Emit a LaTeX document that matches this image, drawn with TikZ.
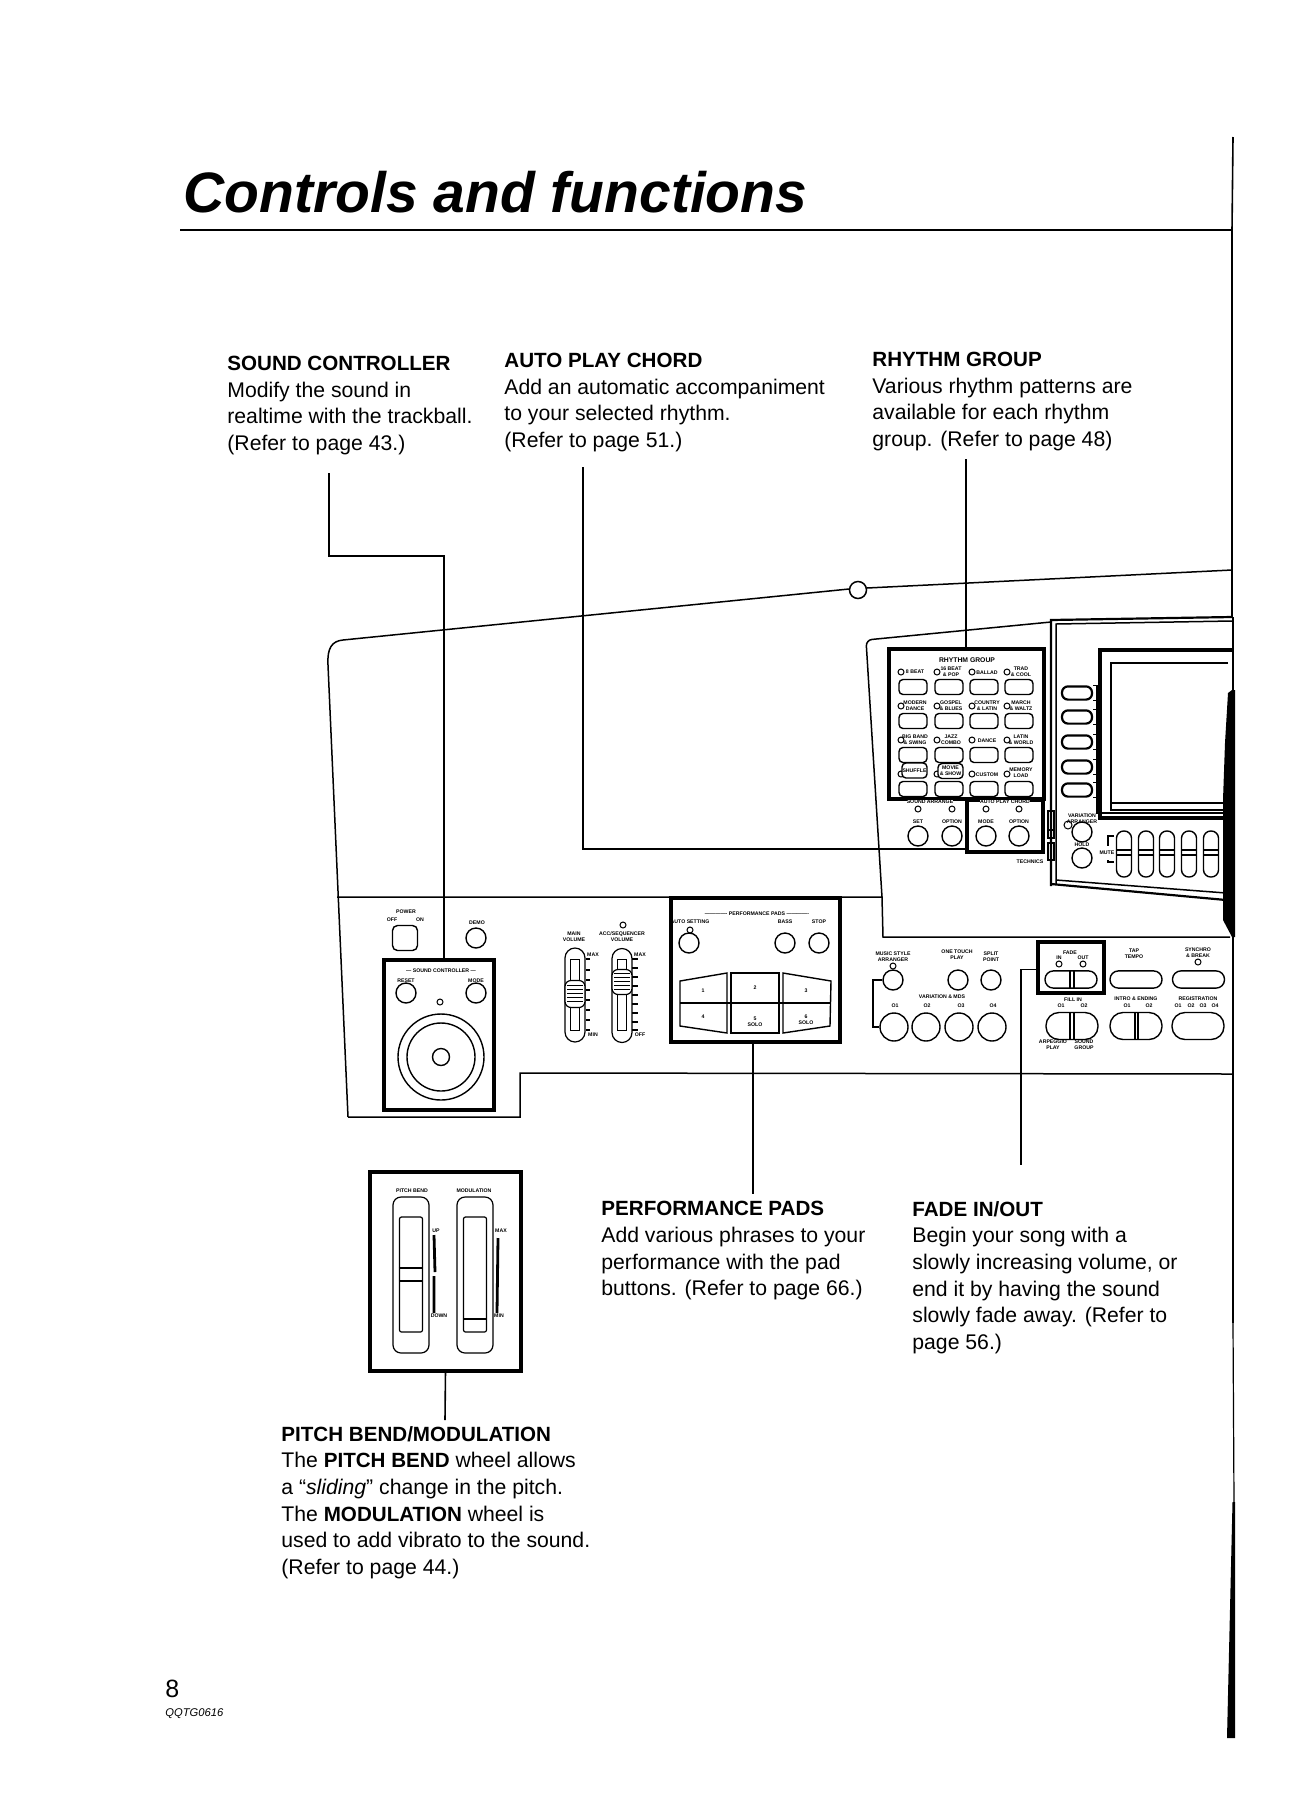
\documentclass[tikz,border=0pt]{standalone}
\usepackage{fontspec}
\setmainfont{Liberation Sans}
\usetikzlibrary{arrows.meta,positioning,calc}
\newcommand{\hd}[1]{{\fontsize{10.3}{13.3}\selectfont\bfseries #1}}
\tikzset{
  body/.style={inner sep=0pt, align=left, anchor=north west, font=\fontsize{10.6}{13.3}\selectfont},
  lead/.style={line width=0.8pt},
  panel/.style={line width=0.75pt},
  hibox/.style={draw, line width=2pt, inner sep=0pt, outer sep=0pt, fill=white},
  lbl/.style={inner sep=0pt, align=center, font=\fontsize{2.6}{3}\selectfont\bfseries},
  lblb/.style={inner sep=0pt, font=\fontsize{3.4}{4}\selectfont\bfseries},
  btn/.style={draw, circle, line width=0.7pt, inner sep=0pt, minimum size=10pt},
  bigbtn/.style={draw, circle, line width=0.7pt, inner sep=0pt, minimum size=14pt},
  led/.style={draw, circle, line width=0.5pt, inner sep=0pt, minimum size=3pt},
  rbtn/.style={draw, rounded corners=2pt, line width=0.7pt, inner sep=0pt, minimum width=14pt, minimum height=7.5pt},
  pill/.style={draw, rounded corners=4.2pt, line width=0.7pt, inner sep=0pt, minimum width=26pt, minimum height=8.6pt},
  bigpill/.style={draw, rounded corners=6.5pt, line width=0.7pt, inner sep=0pt, minimum width=26pt, minimum height=13.5pt},
  softbtn/.style={draw, rounded corners=3pt, line width=1.1pt, inner sep=0pt, minimum width=15pt, minimum height=6.6pt},
  mutebtn/.style={draw, rounded corners=3.6pt, line width=0.7pt, inner sep=0pt, minimum width=7.5pt, minimum height=23pt},
  wheel/.style={draw, rounded corners=4pt, line width=0.6pt, inner sep=0pt, minimum width=18pt, minimum height=78pt},
  wheelin/.style={draw, rounded corners=1pt, line width=0.6pt, inner sep=0pt, minimum width=11.5pt, minimum height=57.5pt},
  slider/.style={draw, rounded corners=5pt, line width=0.6pt, inner sep=0pt, minimum width=10pt, minimum height=47pt},
  sliderin/.style={draw, line width=0.6pt, inner sep=0pt, minimum width=4.8pt, minimum height=35.5pt},
  knob/.style={draw, fill=white, rounded corners=3pt, line width=0.6pt, inner sep=0pt, minimum width=10pt}
}
\begin{document}
\begin{tikzpicture}[x=0.5pt,y=-0.5pt]
  \useasboundingbox (0,0) rectangle (1314,1800);
  \node[inner sep=0pt, anchor=base west, font=\fontsize{28.5}{30}\selectfont\bfseries\itshape] (title) at (183,212) {Controls and functions};
  \coordinate (rulel) at (180,230);
  \coordinate (ruler) at (1232,230);
  \coordinate (edget) at (1233,137);
  \draw[line width=0.8pt] (rulel) -- (ruler);
  \draw[line width=0.8pt] (edget) -- (1232,230) -- (1232,617);
  \draw[line width=1pt] (1233,617) -- (1233,693);

  \node[body] (hsnd) at (227,356) {\hd{SOUND CONTROLLER}\\Modify the sound in\\realtime with the trackball.\\(Refer to page 43.)};
  \node[body] (hchord) at (504,353) {\hd{AUTO PLAY CHORD}\\Add an automatic accompaniment\\to your selected rhythm.\\(Refer to page 51.)};
  \node[body] (hrhy) at (872,352) {\hd{RHYTHM GROUP}\\Various rhythm patterns are\\available for each rhythm\\group. (Refer to page 48)};
  \node[body] (hpads) at (601,1201) {\hd{PERFORMANCE PADS}\\Add various phrases to your\\performance with the pad\\buttons. (Refer to page 66.)};
  \node[body] (hfade) at (912,1201) {\hd{FADE IN/OUT}\\Begin your song with a\\slowly increasing volume, or\\end it by having the sound\\slowly fade away. (Refer to\\page 56.)};
  \node[body] (hbend) at (281,1426) {\hd{PITCH BEND/MODULATION}\\The \hd{PITCH BEND} wheel allows\\a ``\textit{sliding}'' change in the pitch.\\The \hd{MODULATION} wheel is\\used to add vibrato to the sound.\\(Refer to page 44.)};
  \node[inner sep=0pt, anchor=base west, font=\fontsize{12.5}{14}\selectfont] (pageno) at (165,1697) {8};
  \node[inner sep=0pt, anchor=base west, font=\fontsize{5.6}{7}\selectfont\itshape] (code) at (165,1716) {QQTG0616};

  \draw[panel] (348,1117) -- (328,665) .. controls (327,648) and (332,641) .. (343,640) -- (849,589);
  \draw[panel] (867,588) -- (1232,570);
  \node[draw, circle, line width=0.75pt, inner sep=0pt, minimum size=8.5pt] (hinge) at (858,590) {};
  \draw[panel] (348,1117) -- (520,1117) -- (520,1073) -- (1232,1074);
  \draw[panel] (337,897) -- (882,897) -- (883,937) -- (1230,937);
  \draw[panel, rounded corners=3pt] (882,897) -- (866,640) -- (1051,622);
  \draw[line width=1.1pt] (1051,886) -- (1051,620) -- (1232,617);
  \draw[panel] (1056,884) -- (1056,624) -- (1232,621);
  \draw[line width=1.1pt] (1051,884) -- (1226,900);
  \draw[panel] (1056,880) -- (1226,893);
  \draw[panel] (1097,685) -- (1097,813) -- (1227,813);
  \draw[line width=2pt] (1232,650) -- (1100,650) -- (1100,818) -- (1232,818);
  \draw[panel] (1228,663) -- (1111,663) -- (1111,803) -- (1228,803);
  \draw[panel] (1111,803) -- (1111,810) -- (1228,810);
  \draw[panel] (1048,811) rectangle (1054,830) (1048,830) rectangle (1054,838) (1048,843) rectangle (1054,860);
  \fill (1232,690) -- (1235,690) -- (1235,937) -- (1232,937) -- (1223,920) -- (1223,800) -- (1225,743) -- (1228,693) -- cycle;
  \draw[line width=1.4pt] (1233,937) -- (1233,1323);
  \draw[line width=0.6pt] (1233,1323) -- (1234,1502);
  \fill (1232.5,1502) -- (1235,1502) -- (1235,1738) -- (1227,1738) -- cycle;

  \foreach \y [count=\i] in {693,717,742,767,790}{
    \node[softbtn] (soft\i) at (1077,\y) {};
    \draw[panel] (soft\i.north east) -| (1097,\y-3);
    \draw[panel] (soft\i.south east) -| (1097,\y+3);
  }
  \foreach \x [count=\i] in {1124,1146,1167,1189,1211}{
    \node[mutebtn] (mute\i) at (\x,854) {};
    \draw[panel] (\x-7,850) -- (\x+7,850) (\x-7,855) -- (\x+7,855);
  }
  \node[lbl] (mutel) at (1107,853) {MUTE};
  \draw[panel] (1114,836) -- (1108,836) -- (1108,846) (1108,860) -- (1108,862) -- (1114,862);
  \node[btn] (varb) at (1082,832) {};
  \node[btn] (holdb) at (1082,858) {};
  \node[led, minimum size=4pt] (varl) at (1068,825) {};
  \node[lbl] (vart) at (1082,819) {VARIATION\\ARRANGER};
  \node[lbl] (holdt) at (1082,845) {HOLD};
  \node[lbl] (brand) at (1030,862) {TECHNICS};

  \node[hibox, minimum width=77.5pt, minimum height=75pt] (rhybox) at (966.5,724) {};
  \node[lblb] (rhyt) at (967,660) {RHYTHM GROUP};
  \foreach \y/\row in {687/1,721/2,755/3,789/4}{
    \foreach \x/\col in {913/1,949/2,984/3,1019/4}{
      \node[rbtn] (rb\row\col) at (\x,\y) {};
      \node[led] (rl\row\col) at (\x-12,\y-15) {};
    }
  }
  \node[lbl] (t11) at (915,672) {8 BEAT};
  \node[lbl] (t12) at (951,672) {16 BEAT\\\& POP};
  \node[lbl] (t13) at (987,673) {BALLAD};
  \node[lbl] (t14) at (1021,672) {TRAD\\\& COOL};
  \node[lbl] (t21) at (915,706) {MODERN\\DANCE};
  \node[lbl] (t22) at (951,706) {GOSPEL\\\& BLUES};
  \node[lbl] (t23) at (987,706) {COUNTRY\\\& LATIN};
  \node[lbl] (t24) at (1021,706) {MARCH\\\& WALTZ};
  \node[lbl] (t31) at (915,740) {BIG BAND\\\& SWING};
  \node[lbl] (t32) at (951,740) {JAZZ\\COMBO};
  \node[lbl] (t33) at (987,741) {DANCE};
  \node[lbl] (t34) at (1021,740) {LATIN\\\& WORLD};
  \node[rbtn, fill=white, minimum width=12.5pt, minimum height=7.5pt, lbl] (t41) at (914.5,770.5) {SHUFFLE};
  \node[rbtn, fill=white, minimum width=12.5pt, minimum height=7.5pt, lbl] (t42) at (950.5,771) {MOVIE\\\& SHOW};
  \node[lbl] (t43) at (987,775) {CUSTOM};
  \node[lbl] (t44) at (1021,773) {MEMORY\\LOAD};
  \draw[line width=2pt] (rhybox.south west) -- (rhybox.south east);

  \node[hibox, fill=none, minimum width=38pt, minimum height=26pt] (chordbox) at (1005,826) {};
  \node[lbl, fill=white] (sarrt) at (930,802) {SOUND ARRANGE};
  \node[lbl, fill=white] (chordt) at (1005,802) {AUTO PLAY CHORD};
  \foreach \x/\t [count=\i] in {918/SET,952/OPTION,986/MODE,1019/OPTION}{
    \node[led] (cl\i) at (\x,809) {};
    \node[lbl] (ct\i) at (\x,822) {\t};
    \node[btn] (cb\i) at (\x,836) {};
  }

  \node[btn] (msa) at (893,980) {};
  \node[led] (msal) at (893,966) {};
  \node[lbl] (msat) at (893,957) {MUSIC STYLE\\ARRANGER};
  \node[btn] (otp) at (958,980) {};
  \node[lbl] (otpt) at (957,955) {ONE TOUCH\\PLAY};
  \node[btn] (spl) at (991,980) {};
  \node[lbl] (splt) at (991,957) {SPLIT\\POINT};
  \node[lbl] (mdst) at (942,997) {VARIATION \& MDS};
  \foreach \x/\l [count=\i] in {894/895,926/927,959/961,992/993}{
    \node[bigbtn] (vb\i) at (\x,1027) {};
    \node[lbl] (vt\i) at (\l,1006) {O\i};
  }
  \coordinate (brk) at (873,1000);
  \draw[panel] (msa.west) -| (brk) |- (vb1.west);

  \node[hibox, fill=none, minimum width=33pt, minimum height=25.5pt] (fadebox) at (1071,967.5) {};
  \node[pill] (fade) at (1071,979.5) {};
  \draw[panel] (1070,971) -- (1070,988) (1074,971) -- (1074,988);
  \node[lbl] (fadet) at (1070,953) {FADE};
  \node[lbl] (fadei) at (1059,958) {IN};
  \node[lbl] (fadeo) at (1083,958) {OUT};
  \node[led] (fadel) at (1059,964) {};
  \node[led] (fader) at (1083,964) {};
  \node[pill] (tap) at (1136,979.5) {};
  \node[lbl] (tapt) at (1134,954) {TAP\\TEMPO};
  \node[pill] (syn) at (1198.5,979.5) {};
  \node[lbl] (synt) at (1198,953) {SYNCHRO\\\& BREAK};
  \node[led] (synl) at (1198,962) {};

  \node[bigpill] (fill) at (1072,1026) {};
  \draw[panel] (1070,1012) -- (1070,1039) (1074,1012) -- (1074,1039);
  \node[lbl] (fillt) at (1073,1000) {FILL IN};
  \node[lbl] (fill1) at (1061,1006) {O1};
  \node[lbl] (fill2) at (1084,1006) {O2};
  \node[lbl] (fillp) at (1053,1045) {ARPEGGIO\\PLAY};
  \node[lbl] (fillg) at (1084,1045) {SOUND\\GROUP};
  \node[bigpill] (intro) at (1136,1026) {};
  \draw[panel] (1135,1012) -- (1135,1039) (1138,1012) -- (1138,1039);
  \node[lbl] (introt) at (1136,999) {INTRO \& ENDING};
  \node[lbl] (intro1) at (1127,1006) {O1};
  \node[lbl] (intro2) at (1149,1006) {O2};
  \node[bigpill] (regi) at (1198,1026) {};
  \node[lbl] (regit) at (1198,999) {REGISTRATION};
  \foreach \x [count=\i] in {1178,1191,1203,1215}{
    \node[lbl] (reg\i) at (\x,1006) {O\i};
  }

  \node[lbl] (powt) at (406,912) {POWER};
  \node[lbl] (powo) at (392,920) {OFF};
  \node[lbl] (powi) at (420,920) {ON};
  \node[draw, rounded corners=2.5pt, line width=0.7pt, inner sep=0pt, minimum size=12.5pt] (pow) at (405,938) {};
  \node[lbl] (demot) at (477,923) {DEMO};
  \node[btn] (demo) at (476,938) {};

  \node[hibox, minimum width=55pt, minimum height=75pt] (sndbox) at (439,1035) {};
  \node[lbl] (sndt) at (441,971) {--- SOUND CONTROLLER ---};
  \node[lbl] (sndr) at (406,981) {RESET};
  \node[lbl] (sndm) at (476,981) {MODE};
  \node[btn] (resetb) at (406,993) {};
  \node[btn] (modeb) at (476,993) {};
  \node[led] (sndl) at (440,1002) {};
  \node[draw, circle, line width=0.7pt, inner sep=0pt, minimum size=43pt] (ballo) at (441,1057) {};
  \node[draw, circle, line width=0.7pt, inner sep=0pt, minimum size=34pt] (balli) at (441,1057) {};
  \node[draw, circle, line width=0.7pt, inner sep=0pt, minimum size=8.5pt] (ballc) at (441,1057) {};

  \node[slider] (mainv) at (575,995) {};
  \node[sliderin] (maini) at (575,995) {};
  \node[knob, minimum height=13.5pt] (maink) at (575,994) {};
  \foreach \y in {985,989,993,997,1001}{\draw[line width=0.5pt] (567,\y) -- (583,\y);}
  \foreach \y in {959,970,980,990,1000,1010,1020,1030}{\draw[line width=0.6pt] (586,\y) -- (590,\y);}
  \node[lbl] (maint) at (574,937) {MAIN\\VOLUME};
  \node[lbl] (mainh) at (593,955) {MAX};
  \node[lbl] (mainl) at (593,1035) {MIN};
  \node[slider] (seqv) at (622,995.5) {};
  \node[sliderin] (seqi) at (622,995) {};
  \node[knob, minimum height=12.5pt] (seqk) at (622,982) {};
  \foreach \y in {973,977,981,985,989}{\draw[line width=0.5pt] (614,\y) -- (630,\y);}
  \foreach \y in {959,968,977,986,995,1004,1013,1022,1030}{\draw[line width=0.6pt] (632,\y) -- (638,\y);}
  \node[led] (seql) at (623,925) {};
  \node[lbl] (seqt) at (622,937) {ACC/SEQUENCER\\VOLUME};
  \node[lbl] (seqh) at (640,955) {MAX};
  \node[lbl] (seqm) at (640,1035) {OFF};

  \node[hibox, minimum width=84.5pt, minimum height=72pt] (padbox) at (755.5,970) {};
  \node[lbl] (padt) at (757,914) {------------- PERFORMANCE PADS -------------};
  \node[lbl] (autot) at (690,922) {AUTO SETTING};
  \node[led] (autol) at (690,930) {};
  \node[btn] (autob) at (689,943) {};
  \node[lbl] (bart) at (785,922) {BASS};
  \node[btn] (barb) at (785,943) {};
  \node[lbl] (stpt) at (819,922) {STOP};
  \node[btn] (stpb) at (819,943) {};
  \draw[line width=0.7pt] (680,981) -- (727,973) -- (727,1033) -- (680,1026) -- cycle;
  \draw[line width=0.7pt] (731,973) rectangle (779,1033);
  \draw[line width=0.7pt] (783,973) -- (831,981) -- (830,1026) -- (783,1033) -- cycle;
  \draw[line width=1.4pt] (680,1003) -- (831,1003);
  \node[lbl] (pad1) at (703,991) {1};
  \node[lbl] (pad2) at (755,988) {2};
  \node[lbl] (pad3) at (806,991) {3};
  \node[lbl] (pad4) at (703,1017) {4};
  \node[lbl] (pad5) at (755,1022) {5\\SOLO};
  \node[lbl] (pad6) at (806,1020) {6\\SOLO};

  \node[hibox, minimum width=75.5pt, minimum height=99.5pt] (bendbox) at (445.5,1271) {};
  \node[lbl] (bendt) at (412,1191) {PITCH BEND};
  \node[lbl] (modt) at (474,1191) {MODULATION};
  \node[wheel] (bendw) at (411,1275) {};
  \node[wheelin] (bendi) at (411,1274.5) {};
  \draw[line width=0.7pt] (bendi.west |- 0,1268) -- (bendi.east |- 0,1268) (bendi.west |- 0,1281) -- (bendi.east |- 0,1281);
  \node[wheel] (modw) at (475,1275) {};
  \node[wheelin] (modi) at (475,1274.5) {};
  \draw[line width=0.7pt] (modi.west |- 0,1319) -- (modi.east |- 0,1319);
  \draw[line width=1.4pt] (434,1235) -- (435,1272) (434,1276) -- (434,1313) (498,1238) -- (497,1313);
  \node[lbl] (upt) at (436,1231) {UP};
  \node[lbl] (dnt) at (439,1316) {DOWN};
  \node[lbl] (maxt) at (501,1231) {MAX};
  \node[lbl] (mint) at (499,1316) {MIN};

  \coordinate (sc1) at (329,473);
  \coordinate (sc2) at (444,556);
  \coordinate (ch1) at (583,467);
  \coordinate (ch2) at (583,849);
  \coordinate (rh1) at (966,459);
  \coordinate (pd1) at (753,1194);
  \coordinate (fd1) at (1021,1165);
  \coordinate (bd1) at (445,1420);
  \draw[lead] (sc1) |- (sc2) -- (sc2 |- sndbox.north);
  \draw[lead] (ch1) -- (ch2) -- (ch2 -| chordbox.west);
  \draw[lead] (rh1) -- (rh1 |- rhybox.north);
  \draw[lead] (padbox.south -| pd1) -- (pd1);
  \draw[lead] (fadebox.west) ++(0,2) -| (fd1);
  \draw[lead] (bendbox.south) -- (bd1);
\end{tikzpicture}
\end{document}
